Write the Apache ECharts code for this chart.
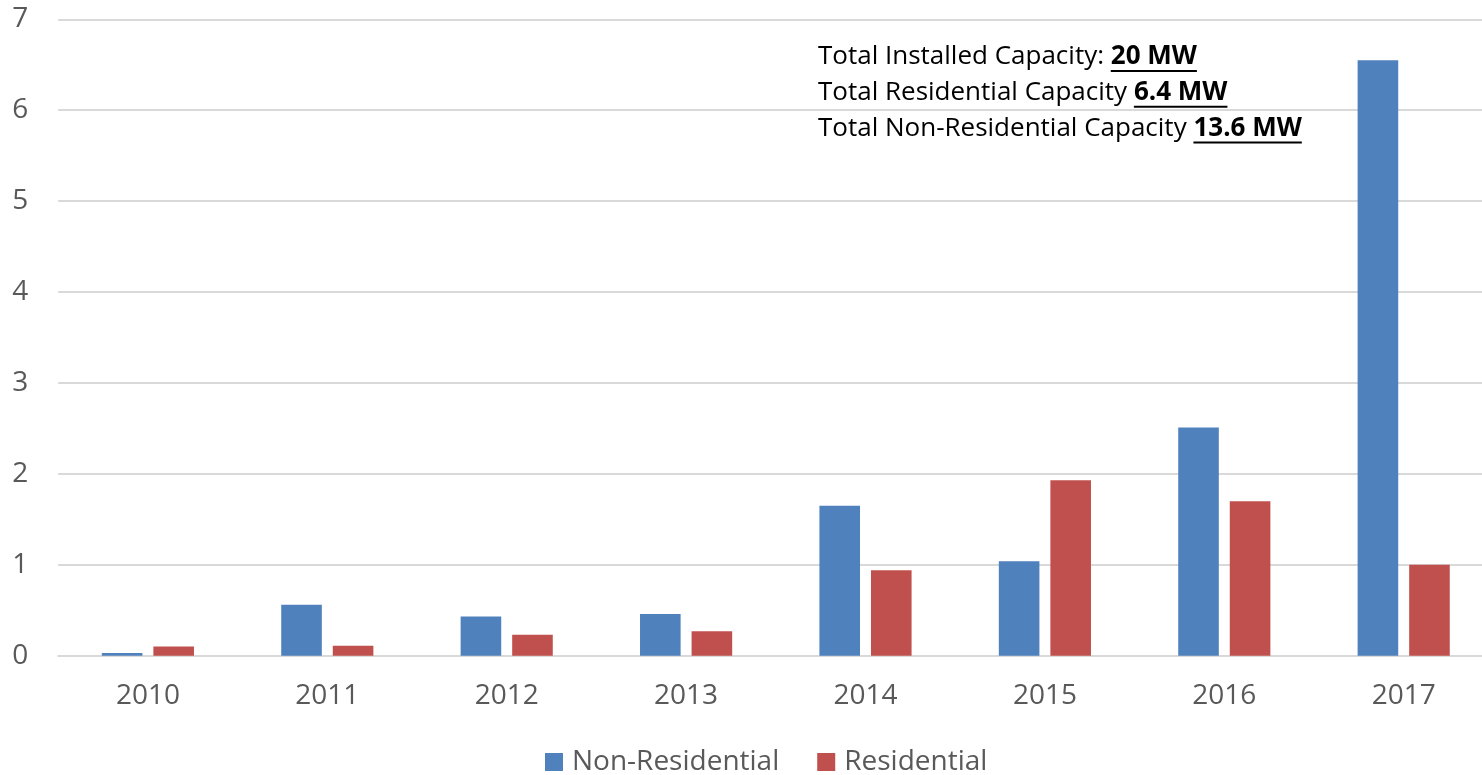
<!DOCTYPE html>
<html>
<head>
<meta charset="utf-8">
<script src="https://cdn.jsdelivr.net/npm/echarts@6/dist/echarts.min.js"></script>
<style>
  html, body { margin: 0; padding: 0; background: #fff; }
  #main { width: 1482px; height: 775px; }
</style>
</head>
<body>
<div id="main"></div>
<script>
// 数据
var years = ['2010', '2011', '2012', '2013', '2014', '2015', '2016', '2017'];
var nonResidential = [0.03, 0.56, 0.43, 0.46, 1.65, 1.04, 2.51, 6.55];
var residential = [0.10, 0.11, 0.23, 0.27, 0.94, 1.93, 1.70, 1.00];
var seriesNames = ['Non-Residential', 'Residential'];
var notes = [
  ['Total Installed Capacity: ', '20 MW'],
  ['Total Residential Capacity ', '6.4 MW'],
  ['Total Non-Residential Capacity ', '13.6 MW']
];

(function() {
  var myChart = echarts.init(document.getElementById('main'));

  // 注释文字 (带下划线的粗体数值)
  var noteFamily = '"Open Sans"';
  var noteSize = 26;
  var ctx = document.createElement('canvas').getContext('2d');
  function textWidth(s, bold) {
    ctx.font = (bold ? 'bold ' : '') + noteSize + 'px ' + noteFamily;
    return ctx.measureText(s).width;
  }
  var graphics = [];
  notes.forEach(function(n, i) {
    var x = 818;
    var y = 57 + i * 35.7;
    var w1 = textWidth(n[0], false);
    var w2 = textWidth(n[1], true);
    graphics.push({
      type: 'text', x: x, y: y,
      style: { text: n[0], fill: '#000', font: noteSize + 'px ' + noteFamily, verticalAlign: 'middle' }
    });
    graphics.push({
      type: 'text', x: x + w1, y: y,
      style: { text: n[1], fill: '#000', font: 'bold ' + noteSize + 'px ' + noteFamily, verticalAlign: 'middle' }
    });
    graphics.push({
      type: 'line',
      shape: { x1: x + w1, y1: y + 14, x2: x + w1 + w2, y2: y + 14 },
      style: { stroke: '#000', lineWidth: 2 }
    });
  });

  var option = {
    animation: false,
    color: ['#4f81bd', '#c0504d'],
    grid: { left: 58.2, right: -11.4, top: 19.3, bottom: 119.3, containLabel: false, outerBoundsMode: 'none' },
    legend: {
      data: seriesNames,
      bottom: -6,
      left: 540,
      icon: 'rect',
      itemWidth: 18,
      itemHeight: 18,
      itemGap: 38,
      textStyle: { fontSize: 28, color: '#595959', fontFamily: '"Open Sans"', padding: [0, 0, 0, 4] }
    },
    xAxis: {
      type: 'category',
      data: years,
      axisTick: { show: false },
      axisLine: { lineStyle: { color: '#d9d9d9', width: 2 } },
      axisLabel: { fontSize: 28, color: '#595959', fontFamily: '"Open Sans"', margin: 26 }
    },
    yAxis: {
      type: 'value',
      min: 0,
      max: 7,
      interval: 1,
      axisLine: { show: false },
      axisTick: { show: false },
      splitLine: { lineStyle: { color: '#d9d9d9', width: 2 } },
      axisLabel: { fontSize: 28, color: '#595959', fontFamily: '"Open Sans"', margin: 30 }
    },
    series: [
      { name: seriesNames[0], type: 'bar', data: nonResidential, barWidth: 40.6, barGap: '27%' },
      { name: seriesNames[1], type: 'bar', data: residential, barWidth: 40.6, barGap: '27%' }
    ],
    graphic: graphics
  };

  myChart.setOption(option);
})();
</script>
</body>
</html>
